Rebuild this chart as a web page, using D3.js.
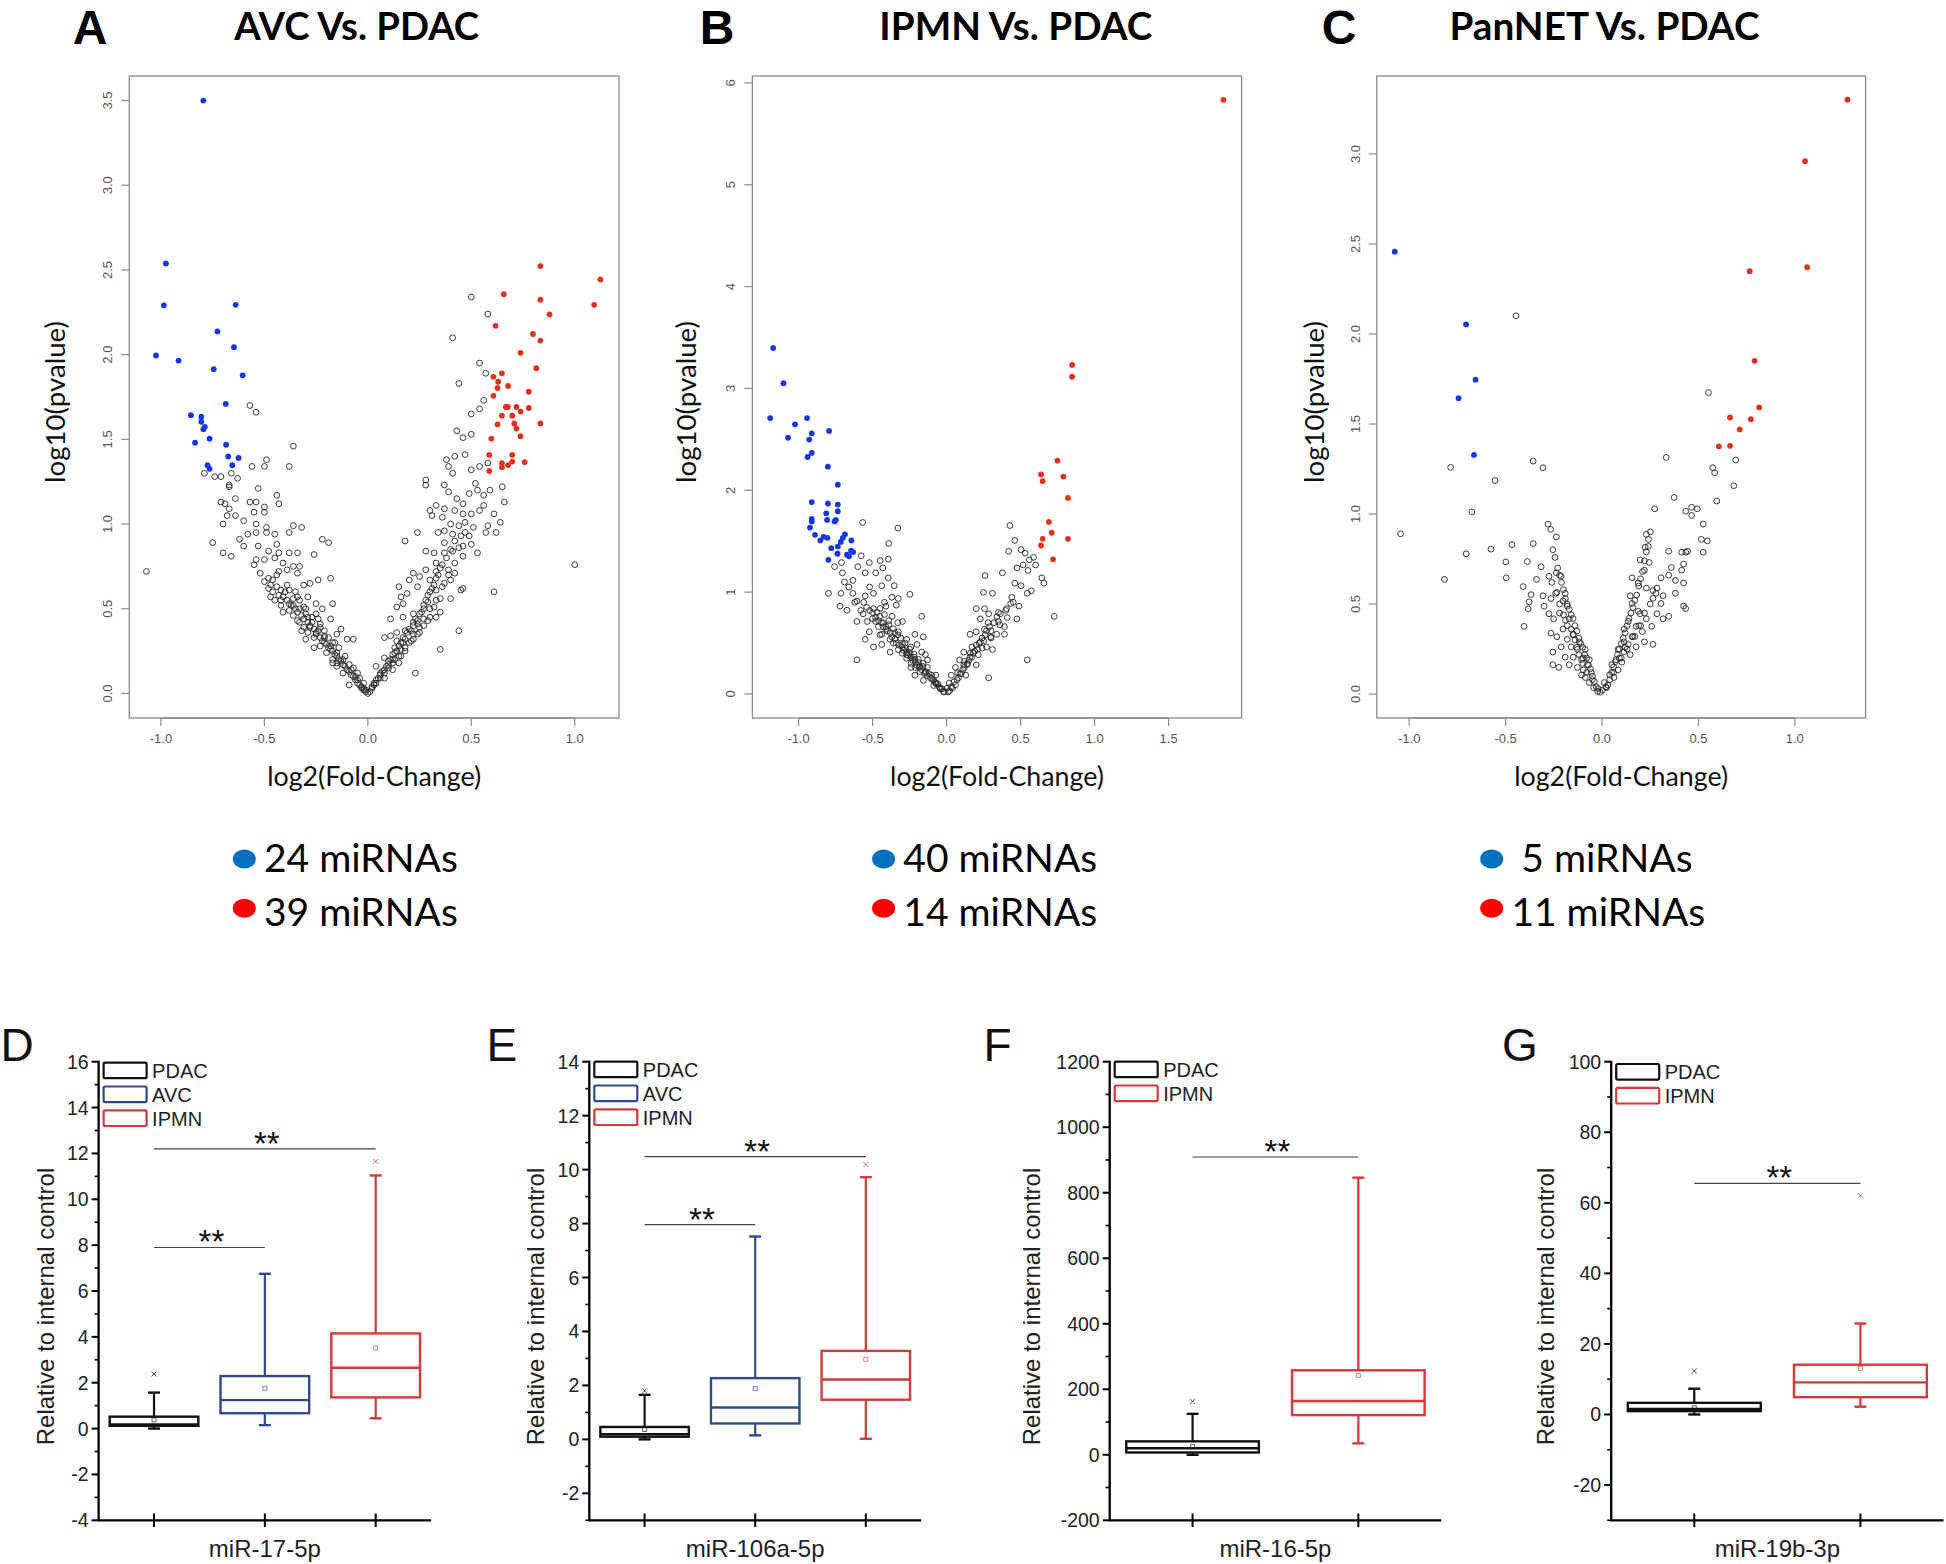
<!DOCTYPE html>
<html><head><meta charset="utf-8">
<script src="https://cdn.jsdelivr.net/npm/d3@7"></script>
<style>body{margin:0;background:#fff}svg{display:block}</style>
</head><body><svg id="c" width="1946" height="1564"></svg>
<script>
// ---------------- DATA ----------------
const titles = ["AVC Vs. PDAC","IPMN Vs. PDAC","PanNET Vs. PDAC"];
const panelLetters = ["A","B","C","D","E","F","G"];
const legendA = ["24 miRNAs","39 miRNAs"];
const legendB = ["40 miRNAs","14 miRNAs"];
const legendC = [" 5 miRNAs","11 miRNAs"];

const aTicksX = [-1,-0.5,0,0.5,1];
const aTicksY = [0,0.5,1,1.5,2,2.5,3,3.5];
const bTicksX = [-1,-0.5,0,0.5,1,1.5];
const bTicksY = [0,1,2,3,4,5,6];
const cTicksX = [-1,-0.5,0,0.5,1];
const cTicksY = [0,0.5,1,1.5,2,2.5,3];

const aBlue = [[-0.795,3.50],[-0.976,2.538],[-0.986,2.291],[-0.639,2.294],[-0.727,2.137],[-1.024,1.995],[-0.647,2.044],[-0.915,1.965],[-0.745,1.914],[-0.605,1.878],[-0.687,1.709],[-0.855,1.643],[-0.805,1.634],[-0.805,1.604],[-0.788,1.574],[-0.795,1.559],[-0.765,1.504],[-0.835,1.48],[-0.685,1.468],[-0.675,1.399],[-0.625,1.39],[-0.775,1.347],[-0.765,1.326],[-0.655,1.347]];
const aRed = [[1.124,2.444],[1.094,2.294],[0.834,2.523],[0.657,2.357],[0.834,2.324],[0.878,2.237],[0.617,2.17],[0.798,2.122],[0.834,2.083],[0.738,2.011],[0.814,1.92],[0.648,1.89],[0.607,1.869],[0.627,1.803],[0.678,1.815],[0.607,1.757],[0.778,1.781],[0.667,1.691],[0.677,1.691],[0.718,1.691],[0.778,1.685],[0.648,1.64],[0.698,1.64],[0.738,1.664],[0.627,1.588],[0.708,1.594],[0.834,1.594],[0.718,1.564],[0.738,1.519],[0.597,1.504],[0.587,1.408],[0.758,1.366],[0.698,1.408],[0.698,1.369],[0.648,1.36],[0.648,1.336],[0.678,1.348],[0.587,1.313],[0.63,1.84]];
const aGrey = [[-1.07,0.72],[-0.57,1.70],[-0.54,1.66],[-0.36,1.46],[-0.49,1.38],[-0.50,1.34],[-0.56,1.34],[-0.38,1.34],[-0.79,1.30],[-0.74,1.28],[-0.71,1.28],[-0.66,1.30],[-0.63,1.27],[-0.67,1.23],[-0.67,1.22],[-0.53,1.21],[-0.44,1.17],[-0.71,1.13],[-0.69,1.12],[-0.64,1.15],[-0.57,1.13],[-0.54,1.13],[-0.50,1.10],[-0.43,1.12],[-0.67,1.09],[-0.68,1.05],[-0.64,1.05],[-0.55,1.07],[-0.50,1.07],[-0.60,1.02],[-0.70,1.00],[-0.54,1.00],[-0.36,0.99],[-0.32,0.98],[-0.49,0.98],[-0.58,0.94],[-0.62,0.91],[-0.60,0.87],[-0.54,0.95],[-0.49,0.95],[-0.45,0.94],[-0.44,0.88],[-0.38,0.95],[-0.75,0.89],[-0.70,0.83],[-0.66,0.81],[-0.53,0.87],[-0.48,0.84],[-0.43,0.83],[-0.38,0.83],[-0.34,0.83],[-0.26,0.82],[-0.22,0.91],[-0.19,0.89],[-0.54,0.79],[-0.50,0.79],[-0.45,0.80],[-0.41,0.77],[-0.36,0.75],[-0.33,0.75],[-0.48,0.68],[-0.46,0.67],[-0.43,0.72],[-0.39,0.73],[-0.34,0.71],[-0.31,0.64],[-0.28,0.65],[-0.24,0.67],[-0.18,0.68],[-0.47,0.64],[-0.42,0.61],[-0.38,0.61],[-0.34,0.57],[-0.29,0.57],[-0.41,0.48],[-0.36,0.52],[-0.31,0.51],[-0.25,0.53],[-0.22,0.50],[-0.17,0.53],[-0.34,0.43],[-0.29,0.45],[-0.28,0.39],[-0.23,0.41],[-0.18,0.44],[-0.13,0.38],[-0.30,0.32],[-0.25,0.35],[-0.21,0.34],[-0.15,0.35],[-0.10,0.32],[-0.07,0.32],[-0.18,0.26],[-0.15,0.22],[-0.12,0.20],[-0.09,0.17],[-0.07,0.15],[-0.05,0.12],[-0.04,0.09],[-0.02,0.06],[-0.09,0.05],[-0.12,0.12],[-0.15,0.16],[-0.17,0.18],[-0.21,0.30],[-0.26,0.27],[-0.32,0.37],[-0.38,0.53],[-0.42,0.55],[-0.24,0.44],[-0.25,0.47],[-0.17,0.30],[-0.21,0.37],[-0.03,0.03],[-0.01,0.01],[0.0,0.0],[-0.06,0.10],[-0.08,0.14],[-0.11,0.22],[-0.14,0.27],[-0.16,0.30],[-0.19,0.33],[-0.23,0.39],[-0.27,0.45],[-0.30,0.50],[-0.33,0.55],[-0.35,0.60],[-0.39,0.64],[-0.44,0.70],[-0.05,0.08],[-0.02,0.02],
[0.50,2.34],[0.41,2.10],[0.58,2.24],[1.00,0.76],[0.54,1.95],[0.57,1.89],[0.44,1.83],[0.56,1.73],[0.54,1.68],[0.50,1.65],[0.43,1.55],[0.46,1.51],[0.50,1.53],[0.47,1.41],[0.42,1.40],[0.38,1.38],[0.39,1.34],[0.41,1.30],[0.50,1.32],[0.54,1.34],[0.58,1.36],[0.52,1.24],[0.53,1.20],[0.56,1.17],[0.59,1.20],[0.65,1.22],[0.28,1.26],[0.28,1.23],[0.37,1.23],[0.39,1.19],[0.43,1.15],[0.46,1.12],[0.49,1.18],[0.56,1.11],[0.66,1.13],[0.42,1.08],[0.46,1.06],[0.50,1.06],[0.54,1.08],[0.61,1.06],[0.30,1.08],[0.31,1.05],[0.33,1.11],[0.37,1.09],[0.36,1.04],[0.40,1.00],[0.44,0.99],[0.47,1.01],[0.51,0.98],[0.58,0.99],[0.64,1.01],[0.57,0.95],[0.62,0.95],[0.24,0.95],[0.34,0.95],[0.37,0.96],[0.41,0.94],[0.45,0.93],[0.49,0.93],[0.50,0.88],[0.53,0.83],[0.46,0.87],[0.41,0.84],[0.37,0.89],[0.18,0.90],[0.28,0.84],[0.32,0.83],[0.37,0.83],[0.46,0.81],[0.33,0.77],[0.42,0.77],[0.22,0.71],[0.20,0.67],[0.28,0.73],[0.33,0.72],[0.39,0.73],[0.40,0.67],[0.45,0.61],[0.46,0.62],[0.37,0.65],[0.30,0.67],[0.25,0.69],[0.15,0.63],[0.16,0.57],[0.19,0.59],[0.24,0.63],[0.29,0.58],[0.33,0.61],[0.35,0.56],[0.40,0.56],[0.61,0.60],[0.44,0.37],[0.35,0.26],[0.23,0.12],[0.17,0.53],[0.22,0.47],[0.27,0.50],[0.32,0.51],[0.14,0.51],[0.17,0.45],[0.24,0.41],[0.29,0.43],[0.33,0.45],[0.35,0.48],[0.11,0.44],[0.08,0.33],[0.11,0.34],[0.14,0.36],[0.18,0.37],[0.22,0.35],[0.25,0.39],[0.17,0.30],[0.22,0.32],[0.13,0.27],[0.18,0.25],[0.16,0.22],[0.12,0.20],[0.10,0.17],[0.08,0.14],[0.06,0.11],[0.04,0.08],[0.03,0.05],[0.08,0.21],[0.14,0.31],[0.04,0.16],[0.08,0.09],[0.15,0.18],[0.12,0.14],[0.01,0.01],[0.02,0.03],[0.04,0.06],[0.06,0.09],[0.10,0.15],[0.13,0.20],[0.16,0.26],[0.20,0.30],[0.25,0.36],[0.30,0.45],[0.27,0.40],[0.22,0.42]];
const aGreyDense = [[-0.48,0.62],[-0.46,0.6],[-0.44,0.63],[-0.43,0.58],[-0.41,0.57],[-0.4,0.6],[-0.39,0.55],[-0.37,0.52],[-0.36,0.56],[-0.35,0.5],[-0.34,0.48],[-0.33,0.5],[-0.32,0.46],[-0.31,0.44],[-0.3,0.47],[-0.29,0.42],[-0.28,0.4],[-0.27,0.42],[-0.26,0.38],[-0.25,0.36],[-0.24,0.37],[-0.23,0.33],[-0.22,0.31],[-0.21,0.33],[-0.2,0.29],[-0.19,0.27],[-0.18,0.28],[-0.17,0.25],[-0.16,0.23],[-0.15,0.24],[-0.14,0.2],[-0.13,0.19],[-0.12,0.17],[-0.11,0.16],[-0.1,0.14],[-0.09,0.13],[-0.08,0.11],[-0.07,0.1],[-0.06,0.08],[-0.05,0.06],[-0.04,0.05],[-0.03,0.04],[-0.02,0.03],[-0.01,0.02],[-0.29,0.36],[-0.26,0.33],[-0.31,0.39],[-0.33,0.42],[-0.36,0.46],[-0.38,0.49],[-0.42,0.52],[-0.45,0.55],[-0.47,0.57],[-0.5,0.66],[-0.52,0.71],[-0.55,0.76],[-0.23,0.28],[-0.2,0.24],[-0.17,0.2],[-0.15,0.18],
[0.02,0.04],[0.03,0.06],[0.05,0.09],[0.06,0.12],[0.07,0.13],[0.09,0.16],[0.1,0.19],[0.11,0.2],[0.12,0.23],[0.13,0.24],[0.14,0.25],[0.15,0.28],[0.16,0.3],[0.17,0.33],[0.18,0.32],[0.19,0.36],[0.2,0.38],[0.21,0.37],[0.22,0.4],[0.23,0.44],[0.24,0.43],[0.25,0.47],[0.26,0.48],[0.27,0.52],[0.28,0.55],[0.29,0.54],[0.3,0.6],[0.31,0.62],[0.32,0.64],[0.33,0.68],[0.34,0.7],[0.35,0.74],[0.36,0.76],[0.38,0.8],[0.4,0.85],[0.42,0.9],[0.44,0.86],[0.47,0.95],[0.08,0.12],[0.12,0.18],[0.15,0.22],[0.18,0.27],[0.21,0.31],[0.24,0.35],[0.27,0.44],[0.3,0.5],[0.33,0.55],[0.36,0.63],[0.39,0.7],[0.42,0.71]];

const bBlue = [[-1.172,3.397],[-1.102,3.051],[-1.192,2.709],[-1.024,2.648],[-0.943,2.709],[-1.071,2.517],[-0.794,2.583],[-0.911,2.558],[-0.928,2.498],[-0.911,2.367],[-0.939,2.327],[-0.802,2.232],[-0.735,2.055],[-0.911,1.884],[-0.802,1.87],[-0.735,1.86],[-0.735,1.794],[-0.813,1.774],[-0.911,1.719],[-0.911,1.694],[-0.807,1.709],[-0.757,1.694],[-0.748,1.709],[-0.923,1.634],[-0.889,1.563],[-0.853,1.508],[-0.831,1.543],[-0.805,1.533],[-0.687,1.568],[-0.701,1.533],[-0.643,1.508],[-0.779,1.432],[-0.735,1.447],[-0.715,1.493],[-0.737,1.377],[-0.673,1.367],[-0.631,1.393],[-0.659,1.352],[-0.645,1.407],[-0.799,1.317]];
const bRed = [[1.87,5.834],[0.848,3.231],[0.848,3.115],[0.749,2.291],[0.638,2.156],[0.649,2.09],[0.789,2.135],[0.82,1.925],[0.691,1.689],[0.71,1.583],[0.649,1.523],[0.82,1.523],[0.638,1.458],[0.719,1.322]];
const bGrey = [[-0.567,1.684],[-0.329,1.629],[-0.391,1.478],[-0.577,1.357],[-0.522,1.29],[-0.449,1.31],[-0.394,1.324],[-0.431,1.238],[-0.479,1.189],[-0.55,1.189],[-0.633,1.115],[-0.704,1.189],[-0.757,1.25],[-0.71,1.29],[-0.714,0.988],[-0.798,0.988],[-0.72,0.862],[-0.673,0.822],[-0.633,0.988],[-0.606,0.913],[-0.55,0.963],[-0.494,0.988],[-0.438,1.063],[-0.394,1.14],[-0.354,1.063],[-0.326,0.938],[-0.248,0.978],[-0.34,0.872],[-0.41,0.862],[-0.494,0.838],[-0.564,0.787],[-0.606,0.712],[-0.536,0.712],[-0.452,0.762],[-0.368,0.762],[-0.298,0.712],[-0.168,0.762],[-0.494,0.461],[-0.606,0.335],[-0.522,0.611],[-0.438,0.586],[-0.382,0.536],[-0.326,0.611],[-0.27,0.536],[-0.214,0.586],[-0.158,0.561],[-0.326,0.436],[-0.27,0.386],[-0.214,0.335],[-0.168,0.411],[-0.129,0.335],[-0.241,0.26],[-0.185,0.26],[-0.143,0.209],[-0.101,0.184],[-0.073,0.108],[-0.045,0.058],[-0.017,0.023],[-0.382,0.411],[-0.438,0.486],[-0.48,0.712],[-0.55,0.536],[-0.41,0.636],[-0.298,0.486],[-0.241,0.461],[-0.2,0.486],[-0.143,0.386],[-0.214,0.184],[-0.129,0.26],[-0.073,0.184],[-0.157,0.133],[-0.087,0.083],[-0.46,0.66],[-0.5,0.74],[-0.43,0.7],[-0.39,0.68],[-0.35,0.6],[-0.31,0.55],[-0.47,0.8],[-0.42,0.9],[-0.37,0.95],[-0.45,0.58],[-0.28,0.45],[-0.25,0.4],[-0.22,0.36],[-0.19,0.31],[-0.16,0.27],[-0.12,0.2],[-0.1,0.15],[-0.06,0.1],[-0.03,0.05],[-0.36,0.5],[-0.33,0.7],[-0.58,0.82],[-0.62,0.9],[-0.66,1.05],[-0.52,1.05],[-0.6,1.25],[-0.69,1.1],
[0.428,1.654],[0.461,1.508],[0.419,1.402],[0.503,1.417],[0.531,1.382],[0.559,1.317],[0.587,1.342],[0.601,1.267],[0.517,1.267],[0.475,1.238],[0.55,1.213],[0.377,1.189],[0.503,1.063],[0.461,1.088],[0.643,1.14],[0.657,1.088],[0.545,0.988],[0.573,1.013],[0.433,0.888],[0.405,0.838],[0.363,0.787],[0.349,0.712],[0.391,0.661],[0.475,0.737],[0.489,0.862],[0.727,0.762],[0.26,1.163],[0.249,0.998],[0.31,0.988],[0.2,0.838],[0.256,0.838],[0.284,0.787],[0.228,0.737],[0.158,0.586],[0.2,0.611],[0.256,0.636],[0.298,0.561],[0.339,0.586],[0.391,0.586],[0.228,0.511],[0.27,0.461],[0.31,0.436],[0.172,0.461],[0.116,0.411],[0.088,0.335],[0.158,0.361],[0.214,0.386],[0.06,0.26],[0.116,0.285],[0.032,0.184],[0.074,0.209],[0.018,0.108],[0.004,0.058],[0.284,0.158],[0.545,0.335],[0.13,0.184],[0.2,0.285],[0.05,0.12],[0.09,0.2],[0.14,0.3],[0.18,0.4],[0.24,0.45],[0.3,0.55],[0.35,0.8],[0.28,0.7],[0.41,0.75],[0.45,0.9],[0.01,0.02],[0.03,0.07]];
const bGreyDense = [[-0.02,0.02],[-0.04,0.05],[-0.05,0.07],[-0.07,0.1],[-0.08,0.12],[-0.09,0.14],[-0.11,0.16],[-0.13,0.18],[-0.14,0.22],[-0.15,0.2],[-0.17,0.24],[-0.18,0.27],[-0.2,0.28],[-0.21,0.31],[-0.23,0.33],[-0.24,0.36],[-0.26,0.38],[-0.27,0.41],[-0.29,0.43],[-0.3,0.46],[-0.32,0.48],[-0.34,0.5],[-0.35,0.54],[-0.37,0.56],[-0.38,0.6],[-0.4,0.62],[-0.41,0.66],[-0.43,0.66],[-0.44,0.7],[-0.46,0.72],[-0.48,0.75],[-0.5,0.8],[-0.52,0.82],[-0.54,0.85],[-0.56,0.9],[-0.33,0.58],[-0.36,0.64],[-0.39,0.72],[-0.42,0.78],[-0.45,0.84],[-0.28,0.5],[-0.25,0.44],[-0.22,0.39],[-0.19,0.34],[-0.16,0.3],[-0.3,0.4],[-0.27,0.35],[-0.24,0.3],[-0.21,0.26],[-0.18,0.22],
[0.02,0.03],[0.04,0.06],[0.06,0.09],[0.07,0.14],[0.08,0.16],[0.1,0.2],[0.11,0.24],[0.12,0.26],[0.14,0.29],[0.15,0.33],[0.17,0.36],[0.19,0.42],[0.21,0.44],[0.22,0.5],[0.24,0.55],[0.26,0.58],[0.27,0.62],[0.29,0.66],[0.32,0.7],[0.34,0.76],[0.12,0.32],[0.16,0.4],[0.2,0.48],[0.25,0.52],[0.3,0.62],[0.36,0.68],[0.4,0.82],[0.44,0.95]];

const cBlue = [[-1.075,2.457],[-0.705,2.053],[-0.656,1.746],[-0.744,1.643],[-0.664,1.328]];
const cRed = [[1.273,3.301],[1.053,2.96],[1.064,2.371],[0.766,2.349],[0.791,1.851],[0.815,1.592],[0.664,1.536],[0.772,1.527],[0.714,1.47],[0.606,1.376],[0.664,1.379]];
const cGrey = [[-0.446,2.101],[-1.045,0.89],[-0.817,0.637],[-0.785,1.259],[-0.705,0.779],[-0.675,1.012],[-0.555,1.186],[-0.357,1.294],[-0.306,1.257],[-0.576,0.805],[-0.467,0.83],[-0.357,0.836],[-0.499,0.734],[-0.497,0.646],[-0.409,0.597],[-0.387,0.736],[-0.316,0.707],[-0.368,0.552],[-0.378,0.512],[-0.34,0.637],[-0.306,0.546],[-0.28,0.944],[-0.266,0.915],[-0.237,0.873],[-0.255,0.802],[-0.244,0.759],[-0.275,0.654],[-0.237,0.674],[-0.212,0.654],[-0.234,0.565],[-0.265,0.531],[-0.3,0.488],[-0.275,0.446],[-0.251,0.418],[-0.265,0.339],[-0.234,0.318],[-0.255,0.233],[-0.255,0.163],[-0.224,0.148],[-0.404,0.376],[-0.383,0.474],[-0.202,0.517],[-0.191,0.56],[-0.18,0.488],[-0.17,0.418],[-0.202,0.361],[-0.18,0.304],[-0.16,0.262],[-0.212,0.262],[-0.191,0.205],[-0.17,0.163],[-0.149,0.205],[-0.128,0.248],[-0.106,0.191],[-0.128,0.148],[-0.097,0.134],[-0.087,0.092],[-0.066,0.064],[-0.044,0.035],[-0.023,0.015],[-0.076,0.163],[-0.106,0.106],[-0.149,0.332],[-0.117,0.29],[-0.087,0.248],[-0.066,0.191],[-0.055,0.12],[-0.14,0.3],[-0.12,0.22],[-0.1,0.17],[-0.08,0.12],[-0.05,0.08],[-0.03,0.04],[-0.01,0.01],[-0.16,0.36],[-0.19,0.41],[-0.22,0.45],
[0.333,1.314],[0.574,1.257],[0.584,1.229],[0.693,1.3],[0.683,1.157],[0.595,1.072],[0.552,1.675],[0.374,1.092],[0.273,1.029],[0.434,1.015],[0.465,1.038],[0.494,1.029],[0.465,0.992],[0.525,0.944],[0.515,0.859],[0.546,0.851],[0.525,0.788],[0.346,0.793],[0.413,0.788],[0.434,0.788],[0.444,0.793],[0.423,0.722],[0.413,0.688],[0.36,0.703],[0.381,0.631],[0.423,0.617],[0.346,0.66],[0.306,0.646],[0.285,0.589],[0.317,0.546],[0.264,0.575],[0.306,0.503],[0.381,0.56],[0.423,0.489],[0.434,0.475],[0.346,0.432],[0.317,0.418],[0.23,0.887],[0.241,0.859],[0.251,0.901],[0.224,0.816],[0.198,0.745],[0.22,0.688],[0.245,0.731],[0.156,0.646],[0.188,0.617],[0.23,0.589],[0.264,0.532],[0.146,0.546],[0.156,0.503],[0.188,0.46],[0.23,0.418],[0.258,0.376],[0.209,0.347],[0.177,0.376],[0.136,0.404],[0.114,0.361],[0.156,0.318],[0.22,0.29],[0.264,0.276],[0.114,0.29],[0.083,0.248],[0.114,0.234],[0.146,0.219],[0.072,0.191],[0.103,0.177],[0.051,0.163],[0.083,0.134],[0.04,0.106],[0.062,0.092],[0.012,0.064],[0.023,0.035],[0.002,0.021],[0.136,0.276],[0.177,0.262],[0.198,0.446],[0.285,0.446],[0.03,0.05],[0.06,0.12],[0.09,0.2],[0.12,0.26],[0.17,0.32],[0.2,0.38]];
const cGreyDense = [[-0.02,0.03],[-0.04,0.07],[-0.05,0.1],[-0.06,0.14],[-0.07,0.16],[-0.08,0.2],[-0.09,0.22],[-0.1,0.26],[-0.11,0.28],[-0.12,0.31],[-0.13,0.35],[-0.14,0.38],[-0.15,0.42],[-0.16,0.44],[-0.17,0.47],[-0.18,0.5],[-0.19,0.53],[-0.2,0.58],[-0.21,0.62],[-0.22,0.66],[-0.23,0.7],[-0.1,0.2],[-0.13,0.26],[-0.15,0.33],[-0.18,0.38],[-0.2,0.44],[-0.22,0.5],[-0.24,0.56],[-0.26,0.62],
[0.02,0.04],[0.04,0.08],[0.05,0.12],[0.06,0.15],[0.07,0.18],[0.08,0.22],[0.09,0.25],[0.1,0.28],[0.11,0.31],[0.12,0.34],[0.13,0.38],[0.14,0.42],[0.15,0.45],[0.16,0.48],[0.17,0.52],[0.18,0.55],[0.19,0.6],[0.2,0.64],[0.21,0.68],[0.22,0.74],[0.23,0.79],[0.24,0.82],[0.1,0.2],[0.13,0.25],[0.16,0.32],[0.19,0.38],[0.22,0.45],[0.25,0.5],[0.28,0.56]];

// box plots: [min, q1, median, q3, max, mean, outlier]
const dGroups = ["PDAC","AVC","IPMN"];
const dPDAC = [0.0, 0.12, 0.18, 0.52, 1.57, 0.38, 2.38];
const dAVC  = [0.15, 0.67, 1.24, 2.29, 6.75, 1.76, null];
const dIPMN = [0.45, 1.36, 2.65, 4.15, 11.04, 3.51, 11.65];
const dSig  = [[1,3,12.2],[1,2,7.9]];
const eGroups = ["PDAC","AVC","IPMN"];
const ePDAC = [0.0, 0.1, 0.19, 0.46, 1.65, 0.37, 1.8];
const eAVC  = [0.15, 0.59, 1.18, 2.27, 7.52, 1.88, null];
const eIPMN = [0.02, 1.47, 2.22, 3.28, 9.72, 2.97, 10.19];
const eSig  = [[1,3,10.48],[1,2,7.96]];
const fGroups = ["PDAC","IPMN"];
const fPDAC = [0, 7, 20, 41, 125, 25, 163];
const fIPMN = [35, 121, 164, 258, 846, 242, null];
const fSig  = [[1,2,909]];
const gGroups = ["PDAC","IPMN"];
const gPDAC = [0, 0.95, 1.6, 3.3, 7.3, 1.9, 12.3];
const gIPMN = [2.2, 4.9, 9.1, 14.1, 25.8, 13.1, 62];
const gSig  = [[1,2,65.5]];
const boxLabels = ["miR-17-5p","miR-106a-5p","miR-16-5p","miR-19b-3p"];
const yTitle = "Relative to internal control";

// ---------------- DRAWING ----------------
const svg = d3.select("#c");
const CAL = "Lato, 'Open Sans', sans-serif";
const ARIAL = "'Liberation Sans', Arial, sans-serif";
function fit(sel, w){const n=sel.node();const cur=n.getComputedTextLength();const fs=parseFloat(sel.attr("font-size"));sel.attr("font-size",fs*w/cur);}

const BLUE="#1537e6", RED="#e5321d";
function volcano(o){
  const g = svg.append("g");
  const x = d3.scaleLinear().domain(o.xDom).range([o.left,o.right]);
  const y = d3.scaleLinear().domain(o.yDom).range([718,76]);
  g.append("rect").attr("x",o.left).attr("y",76).attr("width",o.right-o.left).attr("height",642)
    .attr("fill","none").attr("stroke","#8c8c8c").attr("stroke-width",1.3);
  const xt=o.xTicks;
  g.append("line").attr("x1",x(xt[0])).attr("x2",x(xt[xt.length-1])).attr("y1",718).attr("y2",718).attr("stroke","#8c8c8c").attr("stroke-width",1.3);
  g.selectAll(".xt").data(xt).enter().append("line").attr("x1",d=>x(d)).attr("x2",d=>x(d)).attr("y1",718).attr("y2",726).attr("stroke","#8c8c8c").attr("stroke-width",1.2);
  g.selectAll(".xl").data(xt).enter().append("text").attr("x",d=>x(d)).attr("y",743).attr("text-anchor","middle")
    .attr("font-family",ARIAL).attr("font-size",13).attr("fill","#555").text(d=>d.toFixed(1));
  const yt=o.yTicks;
  g.selectAll(".yt").data(yt).enter().append("line").attr("x1",o.left-8).attr("x2",o.left).attr("y1",d=>y(d)).attr("y2",d=>y(d)).attr("stroke","#8c8c8c").attr("stroke-width",1.2);
  g.selectAll(".yl").data(yt).enter().append("text").attr("transform",d=>`translate(${o.left-17},${y(d)}) rotate(-90)`).attr("text-anchor","middle")
    .attr("font-family",ARIAL).attr("font-size",13).attr("fill","#555").text(d=>o.yFmt(d));
  g.selectAll(".gp").data(o.grey).enter().append("circle").attr("cx",d=>x(d[0])).attr("cy",d=>y(d[1])).attr("r",2.9)
    .attr("fill","none").attr("stroke","#222").attr("stroke-opacity",0.88).attr("stroke-width",1);
  g.selectAll(".bp").data(o.blue).enter().append("circle").attr("cx",d=>x(d[0])).attr("cy",d=>y(d[1])).attr("r",2.9).attr("fill",BLUE);
  g.selectAll(".rp").data(o.red).enter().append("circle").attr("cx",d=>x(d[0])).attr("cy",d=>y(d[1])).attr("r",2.9).attr("fill",RED);
  const xl = g.append("text").attr("x",(o.left+o.right)/2).attr("y",786).attr("text-anchor","middle").attr("font-family",CAL).attr("font-size",27).attr("fill","#111").text("log2(Fold-Change)");
  fit(xl,214);
  const yl = g.append("text").attr("transform",`translate(${o.yLabX},402) rotate(-90)`).attr("text-anchor","middle").attr("font-family",CAL).attr("font-size",27).attr("fill","#111").text("log10(pvalue)");
  fit(yl,162);
  const tt = g.append("text").attr("x",o.titleX).attr("y",40).attr("text-anchor","middle").attr("font-family",CAL).attr("font-weight",700).attr("font-size",38).attr("fill","#000").text(o.title);
  fit(tt,o.titleW);
  g.append("text").attr("x",o.letterX).attr("y",43.5).attr("font-family",ARIAL).attr("font-weight",700).attr("font-size",48).attr("fill","#000").text(o.letter);
  const cols=["#0070c0","#ff0000"], dotY=[859,908.3], txtY=[871.7,925.7];
  o.legend.forEach((t,i)=>{
    g.append("ellipse").attr("cx",o.legX).attr("cy",dotY[i]).attr("rx",11.5).attr("ry",9.5).attr("fill",cols[i]);
    g.append("text").attr("x",o.legX+19.7).attr("y",txtY[i]).attr("font-family",CAL).attr("font-size",39).attr("fill","#000").style("white-space","pre").text(t);
  });
}

volcano({left:129.3,right:619,xDom:[-1.153,1.214],yDom:[-0.145,3.645],xTicks:aTicksX,yTicks:aTicksY,yFmt:d=>d.toFixed(1),
  grey:aGrey.concat(aGreyDense),blue:aBlue,red:aRed,yLabX:65,title:titles[0],titleX:356.7,titleW:245,letter:panelLetters[0],letterX:72.7,legend:legendA,legX:244.3});
volcano({left:752.4,right:1241.6,xDom:[-1.312,1.993],yDom:[-0.236,6.068],xTicks:bTicksX,yTicks:bTicksY,yFmt:d=>String(d),
  grey:bGrey.concat(bGreyDense),blue:bBlue,red:bRed,yLabX:696,title:titles[1],titleX:1015.8,titleW:273,letter:panelLetters[1],letterX:699.8,legend:legendB,legX:883.6});
volcano({left:1376.8,right:1865.6,xDom:[-1.168,1.367],yDom:[-0.133,3.433],xTicks:cTicksX,yTicks:cTicksY,yFmt:d=>d.toFixed(1),
  grey:cGrey.concat(cGreyDense),blue:cBlue,red:cRed,yLabX:1323.5,title:titles[2],titleX:1604.5,titleW:310,letter:panelLetters[2],letterX:1321.7,legend:legendC,legX:1491.7});

const BOXC = {PDAC:"#111111",AVC:"#2f4b8e",IPMN:"#d63a3a"};
function boxplot(o){
  const g = svg.append("g");
  const n = o.groups.length;
  const x = d3.scaleLinear().domain([0.5,n+0.5]).range([o.left,o.right]);
  const y = d3.scaleLinear().domain(o.yDom).range([1520.3,1061.7]);
  const bw = (x(2)-x(1))*0.8;
  g.append("line").attr("x1",o.left).attr("x2",o.left).attr("y1",y(o.yDom[0])).attr("y2",y(o.yDom[1])-1).attr("stroke","#000").attr("stroke-width",2.3);
  g.append("line").attr("x1",o.left-1).attr("x2",o.right).attr("y1",1520.3).attr("y2",1520.3).attr("stroke","#000").attr("stroke-width",2.3);
  g.selectAll(".mn").data(o.minor).enter().append("line").attr("x1",o.left-4).attr("x2",o.left).attr("y1",d=>y(d)).attr("y2",d=>y(d)).attr("stroke","#000").attr("stroke-width",1.6);
  g.selectAll(".mj").data(o.major).enter().append("line").attr("x1",o.left-7).attr("x2",o.left).attr("y1",d=>y(d)).attr("y2",d=>y(d)).attr("stroke","#000").attr("stroke-width",2);
  g.selectAll(".yl").data(o.major).enter().append("text").attr("x",o.left-10).attr("y",d=>y(d)).attr("dy","0.36em").attr("text-anchor","end")
    .attr("font-family",ARIAL).attr("font-size",19.5).attr("fill","#222").text(d=>d);
  g.selectAll(".xt").data(d3.range(1,n+1)).enter().append("line").attr("x1",d=>x(d)).attr("x2",d=>x(d)).attr("y1",1513.5).attr("y2",1527).attr("stroke","#000").attr("stroke-width",2);
  g.append("text").attr("x",(o.left+o.right)/2).attr("y",1557).attr("text-anchor","middle").attr("font-family",ARIAL).attr("font-size",24).attr("fill","#222").text(o.label);
  g.append("text").attr("transform",`translate(${o.yTitleX},1306.5) rotate(-90)`).attr("text-anchor","middle").attr("font-family",ARIAL).attr("font-size",24).attr("fill","#222").text(yTitle);
  g.append("text").attr("x",o.letterX).attr("y",1060.5).attr("font-family",ARIAL).attr("font-size",46).attr("fill","#111").text(o.letter);
  o.stats.forEach((s,i)=>{
    const c = BOXC[o.groups[i]], cx = x(i+1);
    const [mn,q1,md,q3,mx,mean,out] = s;
    g.append("line").attr("x1",cx).attr("x2",cx).attr("y1",y(q3)).attr("y2",y(mx)).attr("stroke",c).attr("stroke-width",2.2);
    g.append("line").attr("x1",cx).attr("x2",cx).attr("y1",y(q1)).attr("y2",y(mn)).attr("stroke",c).attr("stroke-width",2.2);
    [mn,mx].forEach(v=>g.append("line").attr("x1",cx-6).attr("x2",cx+6).attr("y1",y(v)).attr("y2",y(v)).attr("stroke",c).attr("stroke-width",2.4));
    g.append("rect").attr("x",cx-bw/2).attr("y",y(q3)).attr("width",bw).attr("height",y(q1)-y(q3)).attr("fill","none").attr("stroke",c).attr("stroke-width",2.4);
    g.append("line").attr("x1",cx-bw/2).attr("x2",cx+bw/2).attr("y1",y(md)).attr("y2",y(md)).attr("stroke",c).attr("stroke-width",2.4);
    g.append("rect").attr("x",cx-2).attr("y",y(mean)-2).attr("width",4).attr("height",4).attr("fill","none").attr("stroke",c).attr("stroke-opacity",0.7).attr("stroke-width",0.9);
    if(out!==null){const oy=y(out);
      g.append("path").attr("d",`M${cx-2.5},${oy-2.5}L${cx+2.5},${oy+2.5}M${cx-2.5},${oy+2.5}L${cx+2.5},${oy-2.5}`).attr("stroke",c).attr("stroke-opacity",0.75).attr("stroke-width",1);}
  });
  o.sig.forEach(s=>{
    const yy=y(s[2]);
    g.append("line").attr("x1",x(s[0])).attr("x2",x(s[1])).attr("y1",yy).attr("y2",yy).attr("stroke","#444").attr("stroke-width",1.1);
    g.append("text").attr("x",(x(s[0])+x(s[1]))/2+2).attr("y",yy+6).attr("text-anchor","middle").attr("font-family",ARIAL).attr("font-size",33).attr("fill","#111").text("**");
  });
  o.groups.forEach((gname,i)=>{
    const cy = o.legY0 + i*23.9;
    g.append("rect").attr("x",o.left+5).attr("y",cy-7.8).attr("width",43).attr("height",15.6).attr("rx",1.5).attr("fill","none").attr("stroke",BOXC[gname]).attr("stroke-width",2.2);
    g.append("text").attr("x",o.left+53.5).attr("y",cy+7.3).attr("font-family",ARIAL).attr("font-size",20).attr("fill","#222").text(gname);
  });
}

boxplot({left:98.6,right:431.1,yDom:[-4,16],major:d3.range(-4,17,2),minor:d3.range(-3,16,2),groups:dGroups,stats:[dPDAC,dAVC,dIPMN],sig:dSig,
  label:boxLabels[0],yTitleX:53.5,letter:panelLetters[3],letterX:0.5,legY0:1070.4});
boxplot({left:589.3,right:921.1,yDom:[-3,14],major:d3.range(-2,15,2),minor:d3.range(-3,14,2),groups:eGroups,stats:[ePDAC,eAVC,eIPMN],sig:eSig,
  label:boxLabels[1],yTitleX:543.5,letter:panelLetters[4],letterX:486.5,legY0:1069.4});
boxplot({left:1109.7,right:1441.2,yDom:[-200,1200],major:d3.range(-200,1201,200),minor:d3.range(-100,1200,200),groups:fGroups,stats:[fPDAC,fIPMN],sig:fSig,
  label:boxLabels[2],yTitleX:1040.2,letter:panelLetters[5],letterX:983.5,legY0:1069.4});
boxplot({left:1611.2,right:1943.5,yDom:[-30,100],major:d3.range(-20,101,20),minor:d3.range(-30,100,20),groups:gGroups,stats:[gPDAC,gIPMN],sig:gSig,
  label:boxLabels[3],yTitleX:1554,letter:panelLetters[6],letterX:1502,legY0:1071.8});
</script></body></html>
